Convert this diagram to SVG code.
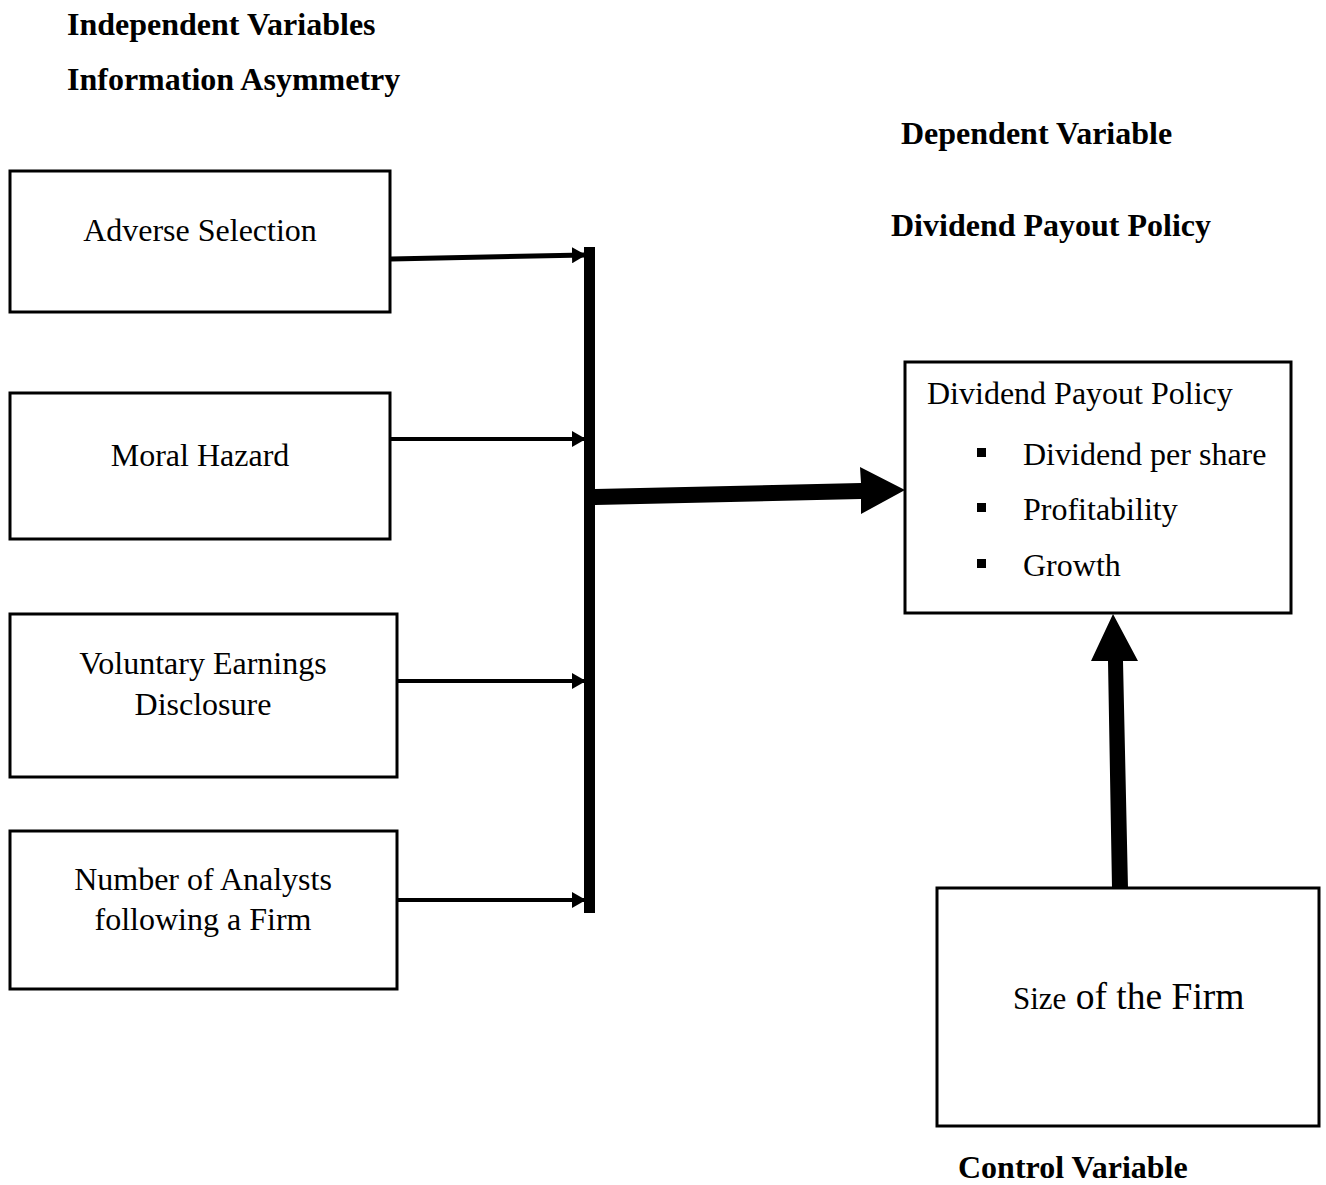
<svg xmlns="http://www.w3.org/2000/svg" width="1326" height="1185" viewBox="0 0 1326 1185">
<style>
.box{fill:#fff;stroke:#000;stroke-width:3}
.t{font-family:"Liberation Serif","Times New Roman",serif;font-size:32px;fill:#000}
.h{font-family:"Liberation Serif","Times New Roman",serif;font-size:32px;font-weight:bold;fill:#000}
.c{text-anchor:middle}
</style>
<defs>
<marker id="ah" markerUnits="userSpaceOnUse" markerWidth="14" markerHeight="16" refX="13" refY="8" orient="auto"><path d="M0,0 L14,8 L0,16 Z" fill="#000"/></marker>
</defs>
<rect width="1326" height="1185" fill="#fff"/>
<text class="h" x="67" y="35">Independent Variables</text>
<text class="h" x="67" y="90">Information Asymmetry</text>
<text class="h" x="901" y="144">Dependent Variable</text>
<text class="h" x="891" y="236">Dividend Payout Policy</text>
<text class="h" x="958" y="1178">Control Variable</text>
<g id="adverse"><rect class="box" x="10" y="171" width="380" height="141"/><text class="t c" x="200" y="241">Adverse Selection</text></g>
<g id="moral"><rect class="box" x="10" y="393" width="380" height="146"/><text class="t c" x="200" y="466">Moral Hazard</text></g>
<g id="voluntary"><rect class="box" x="10" y="614" width="387" height="163"/><text class="t c" x="203" y="674">Voluntary Earnings</text><text class="t c" x="203" y="715">Disclosure</text></g>
<g id="analysts"><rect class="box" x="10" y="831" width="387" height="158"/><text class="t c" x="203" y="890">Number of Analysts</text><text class="t c" x="203" y="930">following a Firm</text></g>
<g id="dpp"><rect class="box" x="905" y="362" width="386" height="251"/><text class="t" x="927" y="404">Dividend Payout Policy</text>
<rect x="977" y="448" width="9" height="9"/><text class="t" x="1023" y="465">Dividend per share</text>
<rect x="977" y="503" width="9" height="9"/><text class="t" x="1023" y="520">Profitability</text>
<rect x="977" y="559" width="9" height="9"/><text class="t" x="1023" y="576">Growth</text></g>
<g id="size"><rect class="box" x="937" y="888" width="382" height="238"/><text class="t" x="1013" y="1009"><tspan font-size="31">Size</tspan><tspan font-size="37.5"> of the Firm</tspan></text></g>
<g id="connectors">
<rect x="584" y="247" width="11" height="666"/>
<line x1="391" y1="259" x2="585" y2="255" stroke="#000" stroke-width="5" marker-end="url(#ah)"/>
<line x1="391" y1="439" x2="585" y2="439" stroke="#000" stroke-width="4" marker-end="url(#ah)"/>
<line x1="398" y1="681" x2="585" y2="681" stroke="#000" stroke-width="4" marker-end="url(#ah)"/>
<line x1="398" y1="900" x2="585" y2="900" stroke="#000" stroke-width="4" marker-end="url(#ah)"/>
<polygon points="595,489 861,483 860,467 905,490 861,514 861,499 595,505"/>
<polygon points="1112,888 1108,661 1091,661 1113,614 1138,661 1123,661 1128,888"/>
</g>
</svg>
